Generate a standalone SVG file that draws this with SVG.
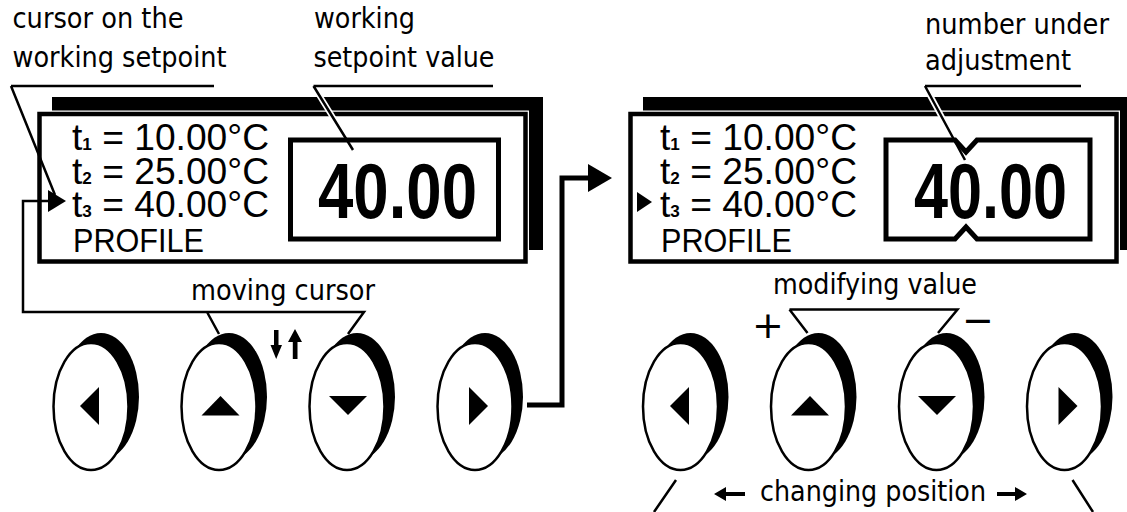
<svg xmlns="http://www.w3.org/2000/svg" width="1127" height="512" viewBox="0 0 1127 512">
<defs>
<style>
.lbl{font-family:"DejaVu Sans Condensed","DejaVu Sans",Verdana,sans-serif;font-size:28.5px;fill:#000}
.lcd{font-family:"Liberation Sans",Arial,sans-serif;font-size:37px;fill:#000}
.sub{font-size:17px;font-weight:bold}
.prof{font-family:"Liberation Sans",Arial,sans-serif;font-size:34px;fill:#000}
.big{font-family:"Liberation Sans",Arial,sans-serif;font-size:78px;font-weight:bold;fill:#000}
.sign{font-family:"DejaVu Sans",Verdana,sans-serif;font-size:38px;fill:#000}
.frame{fill:#fff;stroke:#000;stroke-width:4.5}
.frameHalo{fill:none;stroke:#fff;stroke-width:7}
.halo{fill:none;stroke:#fff;stroke-width:6}
.box{fill:none;stroke:#000;stroke-width:5}
.thin{fill:none;stroke:#000;stroke-width:2.5}
.wide{fill:none;stroke:#000;stroke-width:5}
.btn{fill:#fff;stroke:#000;stroke-width:2.5}
.sh{fill:#000}
.fill{fill:#000}
</style>
<g id="btnbase">
<ellipse cx="10" cy="-10" rx="38" ry="63.5" class="sh"/>
<ellipse cx="0" cy="0" rx="37.5" ry="63.5" class="btn"/>
</g>
</defs>
<rect width="1127" height="512" fill="#fff"/>

<g id="display-left">
<rect x="52" y="97" width="491" height="153" class="sh"/>
<rect x="39.5" y="114" width="486" height="147.5" class="frameHalo"/>
<rect x="39.5" y="114" width="486" height="147.5" class="frame"/>
<path d="M48,190 V212 L66,201 Z" class="fill"/>
<text class="lcd" x="72" y="150" textLength="197" lengthAdjust="spacingAndGlyphs">t<tspan class="sub">1</tspan> = 10.00°C</text>
<text class="lcd" x="72" y="183.5" textLength="197" lengthAdjust="spacingAndGlyphs">t<tspan class="sub">2</tspan> = 25.00°C</text>
<text class="lcd" x="72" y="217" textLength="197" lengthAdjust="spacingAndGlyphs">t<tspan class="sub">3</tspan> = 40.00°C</text>
<text class="prof" x="73" y="251.5" textLength="131" lengthAdjust="spacingAndGlyphs">PROFILE</text>
<rect x="290.5" y="140" width="208" height="99" class="box"/>
<text class="big" x="318" y="217.5" textLength="159" lengthAdjust="spacingAndGlyphs">40.00</text>
</g>

<g id="display-right">
<rect x="643" y="97" width="491" height="153" class="sh"/>
<rect x="630.5" y="114" width="486" height="147.5" class="frameHalo"/>
<rect x="630.5" y="114" width="486" height="147.5" class="frame"/>
<path d="M637,192 V212 L652,202 Z" class="fill"/>
<text class="lcd" x="660" y="150" textLength="197" lengthAdjust="spacingAndGlyphs">t<tspan class="sub">1</tspan> = 10.00°C</text>
<text class="lcd" x="660" y="183.5" textLength="197" lengthAdjust="spacingAndGlyphs">t<tspan class="sub">2</tspan> = 25.00°C</text>
<text class="lcd" x="660" y="217" textLength="197" lengthAdjust="spacingAndGlyphs">t<tspan class="sub">3</tspan> = 40.00°C</text>
<text class="prof" x="661" y="251.5" textLength="131" lengthAdjust="spacingAndGlyphs">PROFILE</text>
<path d="M886,140 H955 L966,152 L977,140 H1090 V239 H977 L966,227 L955,239 H886 Z" class="box"/>
<text class="big" x="914" y="217.5" textLength="153" lengthAdjust="spacingAndGlyphs">40.00</text>
</g>

<g id="buttons-left">
<g id="btn-l-left"><use href="#btnbase" x="91" y="406.5"/><path d="M99,387 V425 L80,406 Z" class="fill"/></g>
<g id="btn-l-up"><use href="#btnbase" x="219" y="406.5"/><path d="M201.5,415.5 H239.5 L220.5,396 Z" class="fill"/></g>
<g id="btn-l-down"><use href="#btnbase" x="347" y="406.5"/><path d="M329,396 H367 L348,415 Z" class="fill"/></g>
<g id="btn-l-right"><use href="#btnbase" x="475" y="406.5"/><path d="M469,387 V425 L488,406 Z" class="fill"/></g>
</g>

<g id="buttons-right">
<g id="btn-r-left"><use href="#btnbase" x="680.5" y="406.5"/><path d="M689,387 V425 L670,406 Z" class="fill"/></g>
<g id="btn-r-up"><use href="#btnbase" x="808.5" y="406.5"/><path d="M791,415.5 H829 L810,396 Z" class="fill"/></g>
<g id="btn-r-down"><use href="#btnbase" x="936.5" y="406.5"/><path d="M918,396 H956 L937,415 Z" class="fill"/></g>
<g id="btn-r-right"><use href="#btnbase" x="1064.5" y="406.5"/><path d="M1058.5,387 V425 L1077.5,406 Z" class="fill"/></g>
</g>

<g id="labels">
<text class="lbl" x="12.5" y="28" textLength="171" lengthAdjust="spacingAndGlyphs">cursor on the</text>
<text class="lbl" x="12.5" y="67" textLength="214" lengthAdjust="spacingAndGlyphs">working setpoint</text>
<text class="lbl" x="314" y="28" textLength="101" lengthAdjust="spacingAndGlyphs">working</text>
<text class="lbl" x="313.5" y="67" textLength="181" lengthAdjust="spacingAndGlyphs">setpoint value</text>
<text class="lbl" x="925" y="34" textLength="184" lengthAdjust="spacingAndGlyphs">number under</text>
<text class="lbl" x="925" y="70" textLength="146" lengthAdjust="spacingAndGlyphs">adjustment</text>
<text class="lbl" x="191" y="300" textLength="184" lengthAdjust="spacingAndGlyphs">moving cursor</text>
<text class="lbl" x="773" y="294" textLength="204" lengthAdjust="spacingAndGlyphs">modifying value</text>
<text class="lbl" x="760" y="501" textLength="226" lengthAdjust="spacingAndGlyphs">changing position</text>
<text class="sign" x="768" y="338" text-anchor="middle">+</text>
<text class="sign" x="978" y="332.5" text-anchor="middle">−</text>
</g>

<g id="connectors">
<path d="M11,86 H214 M11,86 L55,195" class="thin"/>
<path d="M50,201 H23 V312 H364 L348,334 M207,312 L219,334" class="thin"/>
<path d="M313.5,86 L337.6,125" class="halo"/>
<path d="M313.5,86 H493 M313.5,86 L353,150" class="thin"/>
<path d="M925,86 L947.7,128" class="halo"/>
<path d="M925,86 H1081 M925,86 L965,160" class="thin"/>
<path d="M789.5,309.5 H957.5 L938,333 M789.5,309.5 L807.5,333" class="thin"/>
<path d="M527,405 H562 V178 H590" class="wide"/>
<path d="M588,164 V192 L612,178 Z" class="fill"/>
<path d="M676,480 L654,512 M1072.5,480 L1093,512" class="thin"/>
<path d="M274,330 H278.5 V345 H282 L276.2,359 L270.5,345 H274 Z" class="fill"/>
<path d="M292.8,359 V342 H288 L295,329 L302,342 H297.5 V359 Z" class="fill"/>
<path d="M745,492 H726 V487 L714,494 L726,501 V496 H745 Z" class="fill"/>
<path d="M997,492 H1015 V487 L1027,494 L1015,501 V496 H997 Z" class="fill"/>
</g>
</svg>
